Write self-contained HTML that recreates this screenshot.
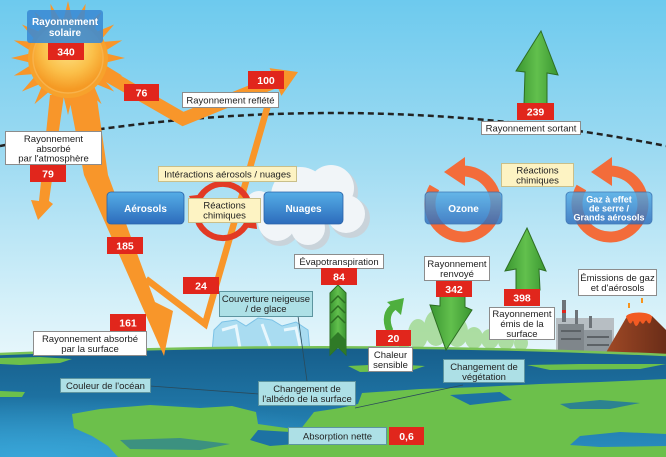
<!DOCTYPE html>
<html><head><meta charset="utf-8">
<style>
html,body{margin:0;padding:0;width:666px;height:457px;overflow:hidden;background:#8fd6f0}
svg{display:block}
text{font-family:"Liberation Sans",Arial,sans-serif}
.l{font-size:9.5px;fill:#222;text-anchor:middle}
.w{font-size:10px;fill:#fff;font-weight:bold;text-anchor:middle}
.g{font-size:9px;fill:#fff;font-weight:bold;text-anchor:middle}
.n{font-size:10.5px;fill:#fff;font-weight:bold;text-anchor:middle}
.wb{fill:#fff;stroke:#8c8c8c;stroke-width:1}
.yb{fill:#fdf3c3;stroke:#c9bf8a;stroke-width:1}
.cb{fill:#ade0e6;stroke:#5d95a0;stroke-width:1}
.rb{fill:#e1261c}
.bb{fill:url(#blu);stroke:#2a63a8;stroke-width:0.8}
.or{fill:#f8962a}
</style></head><body>
<svg width="666" height="457" viewBox="0 0 666 457" xmlns="http://www.w3.org/2000/svg">
<defs>
<linearGradient id="sky" gradientUnits="userSpaceOnUse" x1="0" y1="0" x2="0" y2="355">
<stop offset="0" stop-color="#6dcaee"/><stop offset="0.45" stop-color="#9fdbf2"/><stop offset="0.85" stop-color="#d4f0f9"/><stop offset="1" stop-color="#e6f6fb"/>
</linearGradient>
<linearGradient id="sea" gradientUnits="userSpaceOnUse" x1="0" y1="345" x2="0" y2="457">
<stop offset="0" stop-color="#165d8a"/><stop offset="0.5" stop-color="#1e73a3"/><stop offset="1" stop-color="#2a8fc2"/>
</linearGradient>
<radialGradient id="sea2" cx="0.05" cy="1" r="0.55">
<stop offset="0" stop-color="#3aa8da" stop-opacity="0.9"/><stop offset="1" stop-color="#3aa6d8" stop-opacity="0"/>
</radialGradient>
<linearGradient id="blu" x1="0" y1="0" x2="0" y2="1">
<stop offset="0" stop-color="#55ade6"/><stop offset="1" stop-color="#2d6cbc"/>
</linearGradient>
<linearGradient id="grn" x1="0" y1="0" x2="1" y2="0">
<stop offset="0" stop-color="#3a9631"/><stop offset="0.5" stop-color="#62c04d"/><stop offset="1" stop-color="#3a9631"/>
</linearGradient>
<radialGradient id="sun" cx="0.5" cy="0.35" r="0.6">
<stop offset="0" stop-color="#fde58a"/><stop offset="0.6" stop-color="#fbc04a"/><stop offset="1" stop-color="#f59a24"/>
</radialGradient>
<linearGradient id="volc" x1="0" y1="0" x2="1" y2="0">
<stop offset="0" stop-color="#a24a26"/><stop offset="1" stop-color="#6a2d18"/>
</linearGradient>
</defs>

<!-- sky -->
<rect x="0" y="0" width="666" height="457" fill="url(#sky)"/>

<!-- dotted atmosphere line -->
<path d="M0,146 Q333,80 666,146" fill="none" stroke="#222" stroke-width="2.5" stroke-dasharray="6,4"/>

<!-- background trees -->
<g fill="#9bd685" opacity="0.75">
<ellipse cx="418" cy="334" rx="10" ry="15"/><ellipse cx="436" cy="328" rx="12" ry="18"/>
<ellipse cx="457" cy="332" rx="11" ry="15"/><ellipse cx="474" cy="338" rx="9" ry="11"/>
<ellipse cx="490" cy="339" rx="9" ry="10"/><ellipse cx="506" cy="341" rx="8" ry="9"/>
<ellipse cx="521" cy="343" rx="7" ry="8"/><ellipse cx="404" cy="340" rx="7" ry="9"/>
</g>

<!-- factory -->
<g>
<rect x="556" y="318" width="58" height="36" fill="#b7bec3"/>
<rect x="562" y="300" width="4" height="22" fill="#6d7378"/><rect x="562" y="310" width="4" height="3" fill="#e1261c"/>
<rect x="575" y="310" width="3" height="14" fill="#6d7378"/><rect x="589" y="316" width="3" height="12" fill="#6d7378"/>
<rect x="558" y="324" width="26" height="30" fill="#7f868b"/><rect x="584" y="330" width="28" height="24" fill="#8f979c"/>
<rect x="561" y="330" width="20" height="2" fill="#5c6266"/><rect x="561" y="338" width="20" height="2" fill="#5c6266"/>
<rect x="587" y="336" width="22" height="2" fill="#5c6266"/><rect x="587" y="344" width="22" height="2" fill="#5c6266"/>
</g>
<!-- volcano -->
<polygon points="604,356 626,318 652,316 666,330 666,356" fill="url(#volc)"/>
<ellipse cx="639" cy="317" rx="13" ry="4.5" fill="#f25a22"/>
<path d="M627,318 q3,10 6,2 q3,12 7,0 q3,8 6,-1 q4,10 6,-2 z" fill="#f25a22"/>
<rect x="628" y="303" width="2" height="5" fill="#f7941d"/><rect x="641" y="298" width="2" height="5" fill="#f7941d"/>

<!-- ice -->
<g>
<path d="M212,352 L214,330 L222,322 L236,320 L246,326 L258,318 L272,320 L282,326 L296,322 L308,330 L310,352 Z" fill="#a9dcf1" stroke="#7cc2e6" stroke-width="1"/>
<path d="M222,330 L236,326 L240,348 M262,324 L270,346 M284,330 L296,328 L300,346" stroke="#e8f7fd" stroke-width="3" fill="none"/>
</g>

<!-- earth -->
<path d="M0,354 Q333,340 666,355 L666,457 L0,457 Z" fill="url(#sea)"/>
<path d="M0,354 Q333,340 666,355 L666,457 L0,457 Z" fill="url(#sea2)"/>
<path d="M0,354 Q333,340 666,355" fill="none" stroke="#79c257" stroke-width="2.5"/>
<!-- land -->
<g fill="#6cc04b">
<path d="M0,358 L40,357 L72,359 L60,363 L20,365 L0,364 Z"/>
<path d="M0,391 L25,392 L22,397 L0,397 Z"/>
<path d="M348,366 L390,364 L425,366 L410,371 L360,372 Z"/>
<path d="M527,365 L580,364 L666,364 L640,369 L550,370 Z"/>
<path d="M72,414 L100,409 L150,405 L200,408 L232,406 L256,412 L258,424 L300,430 L314,412 L340,408 L358,404 L362,393 L420,389 L480,387 L540,384 L600,382 L666,379 L666,434 L620,432 L580,436 L570,445 L600,447 L666,446 L666,457 L118,457 L108,446 L92,436 L74,428 Z"/>
</g>
<g fill="#1d72a3">
<path d="M450,395 L500,392 L512,400 L470,405 Z"/>
<path d="M258,430 L290,432 L296,444 L270,446 L250,440 Z"/>
<path d="M560,404 L600,400 L640,403 L610,409 L570,409 Z" opacity="0.8"/>
<path d="M120,440 L180,438 L230,444 L200,450 L130,449 Z" opacity="0.6"/>
</g>

<!-- orange arrows -->
<!-- 79 branch -->
<polygon class="or" points="50,95 64,95 49,201 53,204 38,220 31,200 39,201"/>
<!-- main to surface -->
<polygon class="or" points="68,92 84,175 137,295 164,356 173,311 155,302 108,175 96,92"/>
<!-- reflected by surface (24) -->
<polyline points="146,279 205,324 270,98" fill="none" stroke="#f8962a" stroke-width="6.5" stroke-linejoin="miter"/>
<!-- reflected (76/100) -->
<polyline points="98,70 183,119 277,81" fill="none" stroke="#f8962a" stroke-width="13" stroke-linejoin="miter"/>
<polygon class="or" points="298,72 269.6,68.1 281.4,95.9"/>

<!-- sun -->
<g transform="translate(68,58)" fill="#f8962a">
<polygon points="-6,-32 0,-57 6,-32"/>
<polygon points="-6,-32 0,-57 6,-32" transform="rotate(18)"/>
<polygon points="-6,-32 0,-57 6,-32" transform="rotate(36)"/>
<polygon points="-6,-32 0,-57 6,-32" transform="rotate(54)"/>
<polygon points="-6,-32 0,-57 6,-32" transform="rotate(72)"/>
<polygon points="-6,-32 0,-57 6,-32" transform="rotate(90)"/>
<polygon points="-6,-32 0,-57 6,-32" transform="rotate(108)"/>
<polygon points="-6,-32 0,-57 6,-32" transform="rotate(126)"/>
<polygon points="-6,-32 0,-57 6,-32" transform="rotate(144)"/>
<polygon points="-6,-32 0,-57 6,-32" transform="rotate(162)"/>
<polygon points="-6,-32 0,-57 6,-32" transform="rotate(180)"/>
<polygon points="-6,-32 0,-57 6,-32" transform="rotate(198)"/>
<polygon points="-6,-32 0,-57 6,-32" transform="rotate(216)"/>
<polygon points="-6,-32 0,-57 6,-32" transform="rotate(234)"/>
<polygon points="-6,-32 0,-57 6,-32" transform="rotate(252)"/>
<polygon points="-6,-32 0,-57 6,-32" transform="rotate(270)"/>
<polygon points="-6,-32 0,-57 6,-32" transform="rotate(288)"/>
<polygon points="-6,-32 0,-57 6,-32" transform="rotate(306)"/>
<polygon points="-6,-32 0,-57 6,-32" transform="rotate(324)"/>
<polygon points="-6,-32 0,-57 6,-32" transform="rotate(342)"/>
<circle r="40" fill="#f7a22c"/>
<circle r="35" fill="url(#sun)" stroke="#f8b24a" stroke-width="1.5"/>
</g>

<!-- cloud -->
<g fill="#c9d3da">
<circle cx="303" cy="200" r="30"/><circle cx="334" cy="192" r="24"/><circle cx="350" cy="218" r="20"/>
<circle cx="280" cy="226" r="20"/><circle cx="312" cy="232" r="18"/><circle cx="262" cy="208" r="15"/>
</g>
<g fill="#f1f5f8">
<circle cx="300" cy="196" r="29"/><circle cx="331" cy="188" r="23"/><circle cx="346" cy="214" r="19"/>
<circle cx="277" cy="222" r="19"/><circle cx="308" cy="228" r="17"/><circle cx="259" cy="205" r="14"/>
</g>

<!-- red ring (chem reactions left) -->
<g stroke="#e23a24" stroke-width="6" fill="none">
<path d="M249.6,206.3 A27,27 0 0 0 196.9,204"/>
<path d="M196.4,215.7 A27,27 0 0 0 249.1,218"/>
</g>
<polygon points="189,196 206,194 195,209" fill="#e23a24"/>
<polygon points="243,227 257,229 255,213" fill="#e23a24"/>

<!-- orange rings -->
<g stroke="#f36c3a" stroke-width="11" fill="none">
<path d="M463,171 A33,33 0 1 1 434.4,187.5"/>
<path d="M610,171 A33,33 0 1 1 581.4,187.5"/>
</g>
<polygon points="444,172 465,157 465,186" fill="#f36c3a"/>
<polygon points="591,172 612,157 612,186" fill="#f36c3a"/>

<!-- green arrows -->
<polygon points="541,31 558,75 547,73 547,104 524,104 525,72 516,71" fill="url(#grn)" stroke="#2d6e22" stroke-width="1"/>
<polygon points="527,228 546,271 539,269 540,290 516,290 516,269 505,271" fill="url(#grn)" stroke="#2d6e22" stroke-width="1"/>
<polygon points="440,296 465,296 465,307 472,310 446,350 430,305 440,306" fill="url(#grn)" stroke="#2d6e22" stroke-width="1"/>
<path d="M390,331 C385,320 387,311 395,306" fill="none" stroke="#4eaf3e" stroke-width="7"/>
<polygon points="404,298 387,302 401,315" fill="#4eaf3e"/>
<!-- evapotranspiration column -->
<polygon points="330,293 338,285 346,293 346,355 338,347 330,355" fill="url(#grn)" stroke="#2d6e22" stroke-width="1"/>
<path d="M331,303 L338,296 L345,303 M331,313 L338,306 L345,313 M331,323 L338,316 L345,323" fill="none" stroke="#2d6e22" stroke-width="1.5"/>
<polygon points="330,340 338,332 346,340 346,355 338,347 330,355" fill="#2f7a27"/>

<!-- connector lines -->
<g stroke="#2a4a5a" stroke-width="0.8" fill="none">
<line x1="150" y1="386" x2="259" y2="394"/>
<line x1="298" y1="316" x2="307" y2="381"/>
<line x1="355" y1="408" x2="463" y2="385"/>
</g>

<!-- blue boxes -->
<rect x="27" y="10" width="76" height="33" rx="3" fill="#3a8ad4" opacity="0.88"/>
<rect x="107" y="192" width="77" height="32" rx="4" class="bb"/>
<rect x="264" y="192" width="79" height="32" rx="4" class="bb"/>
<rect x="425" y="192" width="77" height="32" rx="4" class="bb" opacity="0.82"/>
<rect x="566" y="192" width="86" height="32" rx="4" class="bb" opacity="0.82"/>

<text class="w" x="65" y="25">Rayonnement</text>
<text class="w" x="65" y="36">solaire</text>
<text class="w" x="145.5" y="212">Aérosols</text>
<text class="w" x="303.5" y="212">Nuages</text>
<text class="w" x="463.5" y="212">Ozone</text>
<text class="g" x="609" y="202.5">Gaz à effet</text>
<text class="g" x="609" y="211.5">de serre  /</text>
<text class="g" x="609" y="220.5">Grands aérosols</text>

<!-- yellow boxes -->
<rect x="158.5" y="166.5" width="138" height="15" class="yb"/>
<text class="l" x="227.5" y="177.5">Intéractions aérosols / nuages</text>
<rect x="188.5" y="198.5" width="72" height="24" class="yb"/>
<text class="l" x="224.5" y="208.5">Réactions</text>
<text class="l" x="224.5" y="218.5">chimiques</text>
<rect x="501.5" y="163.5" width="72" height="23" class="yb"/>
<text class="l" x="537.5" y="173.5">Réactions</text>
<text class="l" x="537.5" y="183.5">chimiques</text>

<!-- white boxes -->
<rect x="182.5" y="92.5" width="96" height="15" class="wb"/>
<text class="l" x="230.5" y="103.5">Rayonnement reflété</text>
<rect x="5.5" y="131.5" width="96" height="33" class="wb"/>
<text class="l" x="53.5" y="142">Rayonnement</text>
<text class="l" x="53.5" y="152">absorbé</text>
<text class="l" x="53.5" y="161.5">par l'atmosphère</text>
<rect x="33.5" y="331.5" width="113" height="24" class="wb"/>
<text class="l" x="90" y="342">Rayonnement absorbé</text>
<text class="l" x="90" y="352">par la surface</text>
<rect x="294.5" y="254.5" width="89" height="14" class="wb"/>
<text class="l" x="339" y="265">Évapotranspiration</text>
<rect x="368.5" y="347.5" width="44" height="24" class="wb"/>
<text class="l" x="390.5" y="358">Chaleur</text>
<text class="l" x="390.5" y="368">sensible</text>
<rect x="424.5" y="256.5" width="65" height="24" class="wb"/>
<text class="l" x="457" y="267">Rayonnement</text>
<text class="l" x="457" y="277">renvoyé</text>
<rect x="489.5" y="307.5" width="65" height="32" class="wb"/>
<text class="l" x="522" y="317">Rayonnement</text>
<text class="l" x="522" y="327">émis de la</text>
<text class="l" x="522" y="337">surface</text>
<rect x="578.5" y="269.5" width="78" height="26" class="wb"/>
<text class="l" x="617.5" y="281">Émissions de gaz</text>
<text class="l" x="617.5" y="291">et d'aérosols</text>
<rect x="481.5" y="121.5" width="99" height="13" class="wb"/>
<text class="l" x="531" y="131.5">Rayonnement sortant</text>

<!-- cyan boxes -->
<rect x="219.5" y="291.5" width="93" height="25" class="cb"/>
<text class="l" x="266" y="302">Couverture neigeuse</text>
<text class="l" x="266" y="312">/ de glace</text>
<rect x="60.5" y="378.5" width="90" height="14" class="cb"/>
<text class="l" x="105.5" y="389">Couleur de l'océan</text>
<rect x="258.5" y="381.5" width="97" height="24" class="cb"/>
<text class="l" x="307" y="392">Changement de</text>
<text class="l" x="307" y="402">l'albédo de la surface</text>
<rect x="443.5" y="359.5" width="81" height="23" class="cb"/>
<text class="l" x="484" y="370">Changement de</text>
<text class="l" x="484" y="380">végétation</text>
<rect x="288.5" y="427.5" width="98" height="17" class="cb"/>
<text class="l" x="337.5" y="439.5">Absorption nette</text>

<!-- red number boxes -->
<rect x="48" y="43" width="36" height="17" class="rb"/><text class="n" x="66" y="55.5">340</text>
<rect x="124" y="84" width="35" height="17" class="rb"/><text class="n" x="141.5" y="96.5">76</text>
<rect x="248" y="71" width="36" height="18" class="rb"/><text class="n" x="266" y="84">100</text>
<rect x="30" y="165" width="36" height="17" class="rb"/><text class="n" x="48" y="177.5">79</text>
<rect x="107" y="237" width="36" height="17" class="rb"/><text class="n" x="125" y="249.5">185</text>
<rect x="183" y="277" width="36" height="17" class="rb"/><text class="n" x="201" y="289.5">24</text>
<rect x="110" y="314" width="36" height="17" class="rb"/><text class="n" x="128" y="326.5">161</text>
<rect x="321" y="268" width="36" height="17" class="rb"/><text class="n" x="339" y="280.5">84</text>
<rect x="376" y="330" width="35" height="16" class="rb"/><text class="n" x="393.5" y="342">20</text>
<rect x="436" y="281" width="36" height="16" class="rb"/><text class="n" x="454" y="293">342</text>
<rect x="504" y="289" width="36" height="17" class="rb"/><text class="n" x="522" y="301.5">398</text>
<rect x="517" y="103" width="37" height="17" class="rb"/><text class="n" x="535.5" y="115.5">239</text>
<rect x="389" y="427" width="35" height="18" class="rb"/><text class="n" x="406.5" y="440">0,6</text>
</svg>
</body></html>
